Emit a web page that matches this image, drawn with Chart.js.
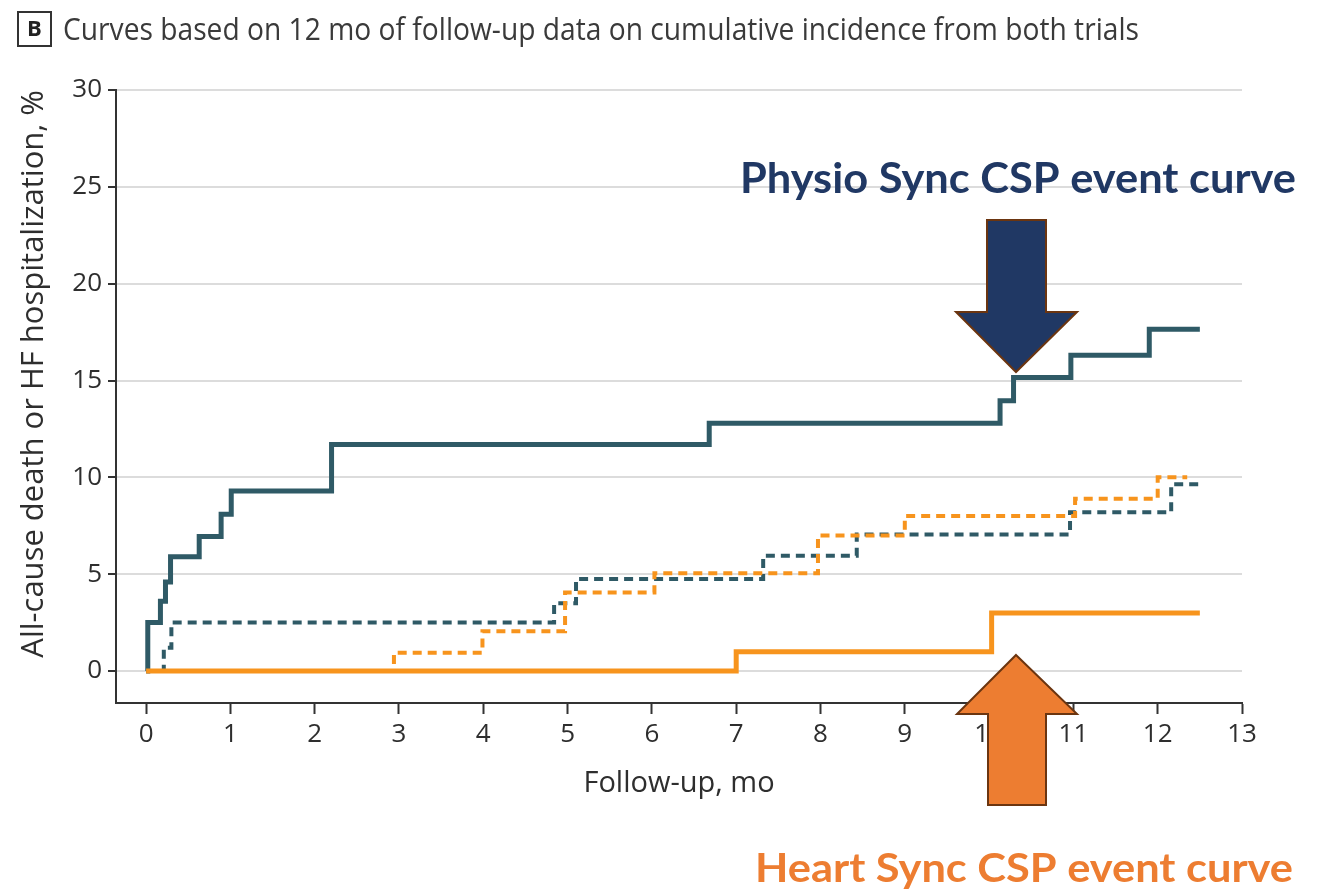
<!DOCTYPE html>
<html>
<head>
<meta charset="utf-8">
<script src="https://cdn.jsdelivr.net/npm/chart.js@4.4.1/dist/chart.umd.min.js"></script>
<style>
  html, body { margin: 0; padding: 0; background: #fff; }
  #wrap { width: 1322px; height: 889px; }
</style>
</head>
<body>
<div id="wrap"><canvas id="km"></canvas></div>
<script>
// step times (months) and cumulative incidence (%) after each step
const physioCspMonths = [0, 0.02, 0.17, 0.23, 0.29, 0.63, 0.89, 1.01, 2.2, 6.68, 10.13, 10.29, 10.97, 11.9, 12.5];
const physioCspPct    = [0, 2.5, 3.6, 4.6, 5.9, 6.95, 8.1, 9.3, 11.7, 12.8, 13.95, 15.15, 16.3, 17.65, 17.65];

const heartCspMonths = [0, 7.0, 10.03, 12.5];
const heartCspPct    = [0, 1.0, 3.0, 3.0];

const tealDashMonths = [0, 0.21, 0.3, 4.84, 5.1, 7.32, 8.43, 10.96, 12.16, 12.5];
const tealDashPct    = [0, 1.2, 2.5, 3.5, 4.75, 5.95, 7.05, 8.2, 9.65, 9.65];

const orangeDashMonths = [0, 2.94, 3.99, 4.97, 6.03, 7.97, 9.0, 11.02, 12.0, 12.35];
const orangeDashPct    = [0, 0.95, 2.05, 4.05, 5.05, 7.0, 8.0, 8.9, 10.0, 10.0];

const xTicks = [0, 1, 2, 3, 4, 5, 6, 7, 8, 9, 10, 11, 12, 13];
const yTicks = [0, 5, 10, 15, 20, 25, 30];

const panelLetter = 'B';
const panelTitle = 'Curves based on 12 mo of follow-up data on cumulative incidence from both trials';
const xTitle = 'Follow-up, mo';
const yTitle = 'All-cause death or HF hospitalization, %';
const physioNote = 'Physio Sync CSP event curve';
const heartNote = 'Heart Sync CSP event curve';

const TEAL = '#2f5a66';
const ORANGE = '#f7941d';
const NAVY = '#203864';
const ARROW_ORANGE = '#ed7d31';
const BROWN = '#6b3510';
const TEXT = '#2e2e2e';

function pts(months, pct) {
  return months.map((m, i) => ({ x: m, y: pct[i] }));
}

function fitText(ctx, text, x, baseline, width, font, color) {
  ctx.save();
  ctx.font = font;
  ctx.fillStyle = color;
  ctx.textBaseline = 'alphabetic';
  ctx.textAlign = 'left';
  const w = ctx.measureText(text).width;
  ctx.translate(x, baseline);
  ctx.scale(width / w, 1);
  ctx.fillText(text, 0, 0);
  ctx.restore();
}

function polygon(ctx, list, fill) {
  ctx.save();
  ctx.beginPath();
  list.forEach((p, i) => i ? ctx.lineTo(p[0], p[1]) : ctx.moveTo(p[0], p[1]));
  ctx.closePath();
  ctx.fillStyle = fill;
  ctx.fill();
  ctx.lineWidth = 2;
  ctx.strokeStyle = BROWN;
  ctx.lineJoin = 'miter';
  ctx.stroke();
  ctx.restore();
}

const decorations = {
  id: 'decorations',
  afterDraw(chart) {
    const ctx = chart.ctx;
    // panel letter box
    ctx.save();
    ctx.strokeStyle = '#333';
    ctx.lineWidth = 2;
    ctx.strokeRect(18, 12, 33, 34);
    ctx.fillStyle = '#222';
    ctx.font = 'bold 22px "Open Sans"';
    ctx.textAlign = 'center';
    ctx.textBaseline = 'middle';
    ctx.fillText(panelLetter, 34.5, 30);
    ctx.restore();
    fitText(ctx, panelTitle, 63, 40, 1076, '31px "Open Sans"', '#3a3a3a');

    // arrows
    polygon(ctx, [[987, 220], [1046, 220], [1046, 312], [1077, 312], [1016, 372], [956, 312], [987, 312]], NAVY);
    polygon(ctx, [[1016, 655], [1077, 714], [1046, 714], [1046, 805], [988, 805], [988, 714], [957, 714]], ARROW_ORANGE);

    fitText(ctx, physioNote, 740, 193, 556, 'bold 42px Lato', NAVY);
    fitText(ctx, heartNote, 755, 882, 538, 'bold 41px Lato', ARROW_ORANGE);
  }
};

const tickFont = { family: '"Open Sans"', size: 26 };
const titleFont = { family: '"Open Sans"', size: 29 };

new Chart(document.getElementById('km'), {
  type: 'line',
  data: {
    datasets: [
      { data: pts(heartCspMonths, heartCspPct), borderColor: ORANGE, borderWidth: 5, order: 1 },
      { data: pts(physioCspMonths, physioCspPct), borderColor: TEAL, borderWidth: 5, order: 2 },
      { data: pts(orangeDashMonths, orangeDashPct), borderColor: ORANGE, borderWidth: 4, borderDash: [9, 6], order: 3 },
      { data: pts(tealDashMonths, tealDashPct), borderColor: TEAL, borderWidth: 4, borderDash: [9, 6], order: 4 }
    ]
  },
  options: {
    responsive: true,
    maintainAspectRatio: false,
    animation: false,
    layout: { padding: { top: 90, right: 80, left: 0, bottom: 0 } },
    elements: {
      point: { radius: 0 },
      line: { stepped: 'before', tension: 0, borderCapStyle: 'butt', borderJoinStyle: 'miter', fill: false }
    },
    plugins: { legend: { display: false }, tooltip: { enabled: false } },
    scales: {
      x: {
        type: 'linear',
        min: -0.357,
        max: 13,
        afterBuildTicks: s => { s.ticks = xTicks.map(v => ({ value: v })); },
        afterFit: s => { s.height = 186; },
        grid: { drawOnChartArea: false, tickLength: 11, tickColor: '#333', tickWidth: 2 },
        border: { color: '#333', width: 2 },
        ticks: { font: tickFont, color: TEXT, padding: 5, maxRotation: 0 },
        title: { display: true, text: xTitle, font: titleFont, color: TEXT, padding: { bottom: 88 } }
      },
      y: {
        min: -1.65,
        max: 30,
        afterBuildTicks: s => { s.ticks = yTicks.map(v => ({ value: v })); },
        afterFit: s => { s.width = 116; },
        grid: { color: '#dcdcdc', lineWidth: 2, tickLength: 8, tickColor: '#333', tickWidth: 2 },
        border: { color: '#333', width: 2 },
        ticks: { font: tickFont, color: TEXT, padding: 6 },
        title: { display: true, text: yTitle, align: 'end', font: { family: '"Open Sans"', size: 31 }, color: TEXT, padding: { top: 16 } }
      }
    }
  },
  plugins: [decorations]
});
</script>
</body>
</html>
